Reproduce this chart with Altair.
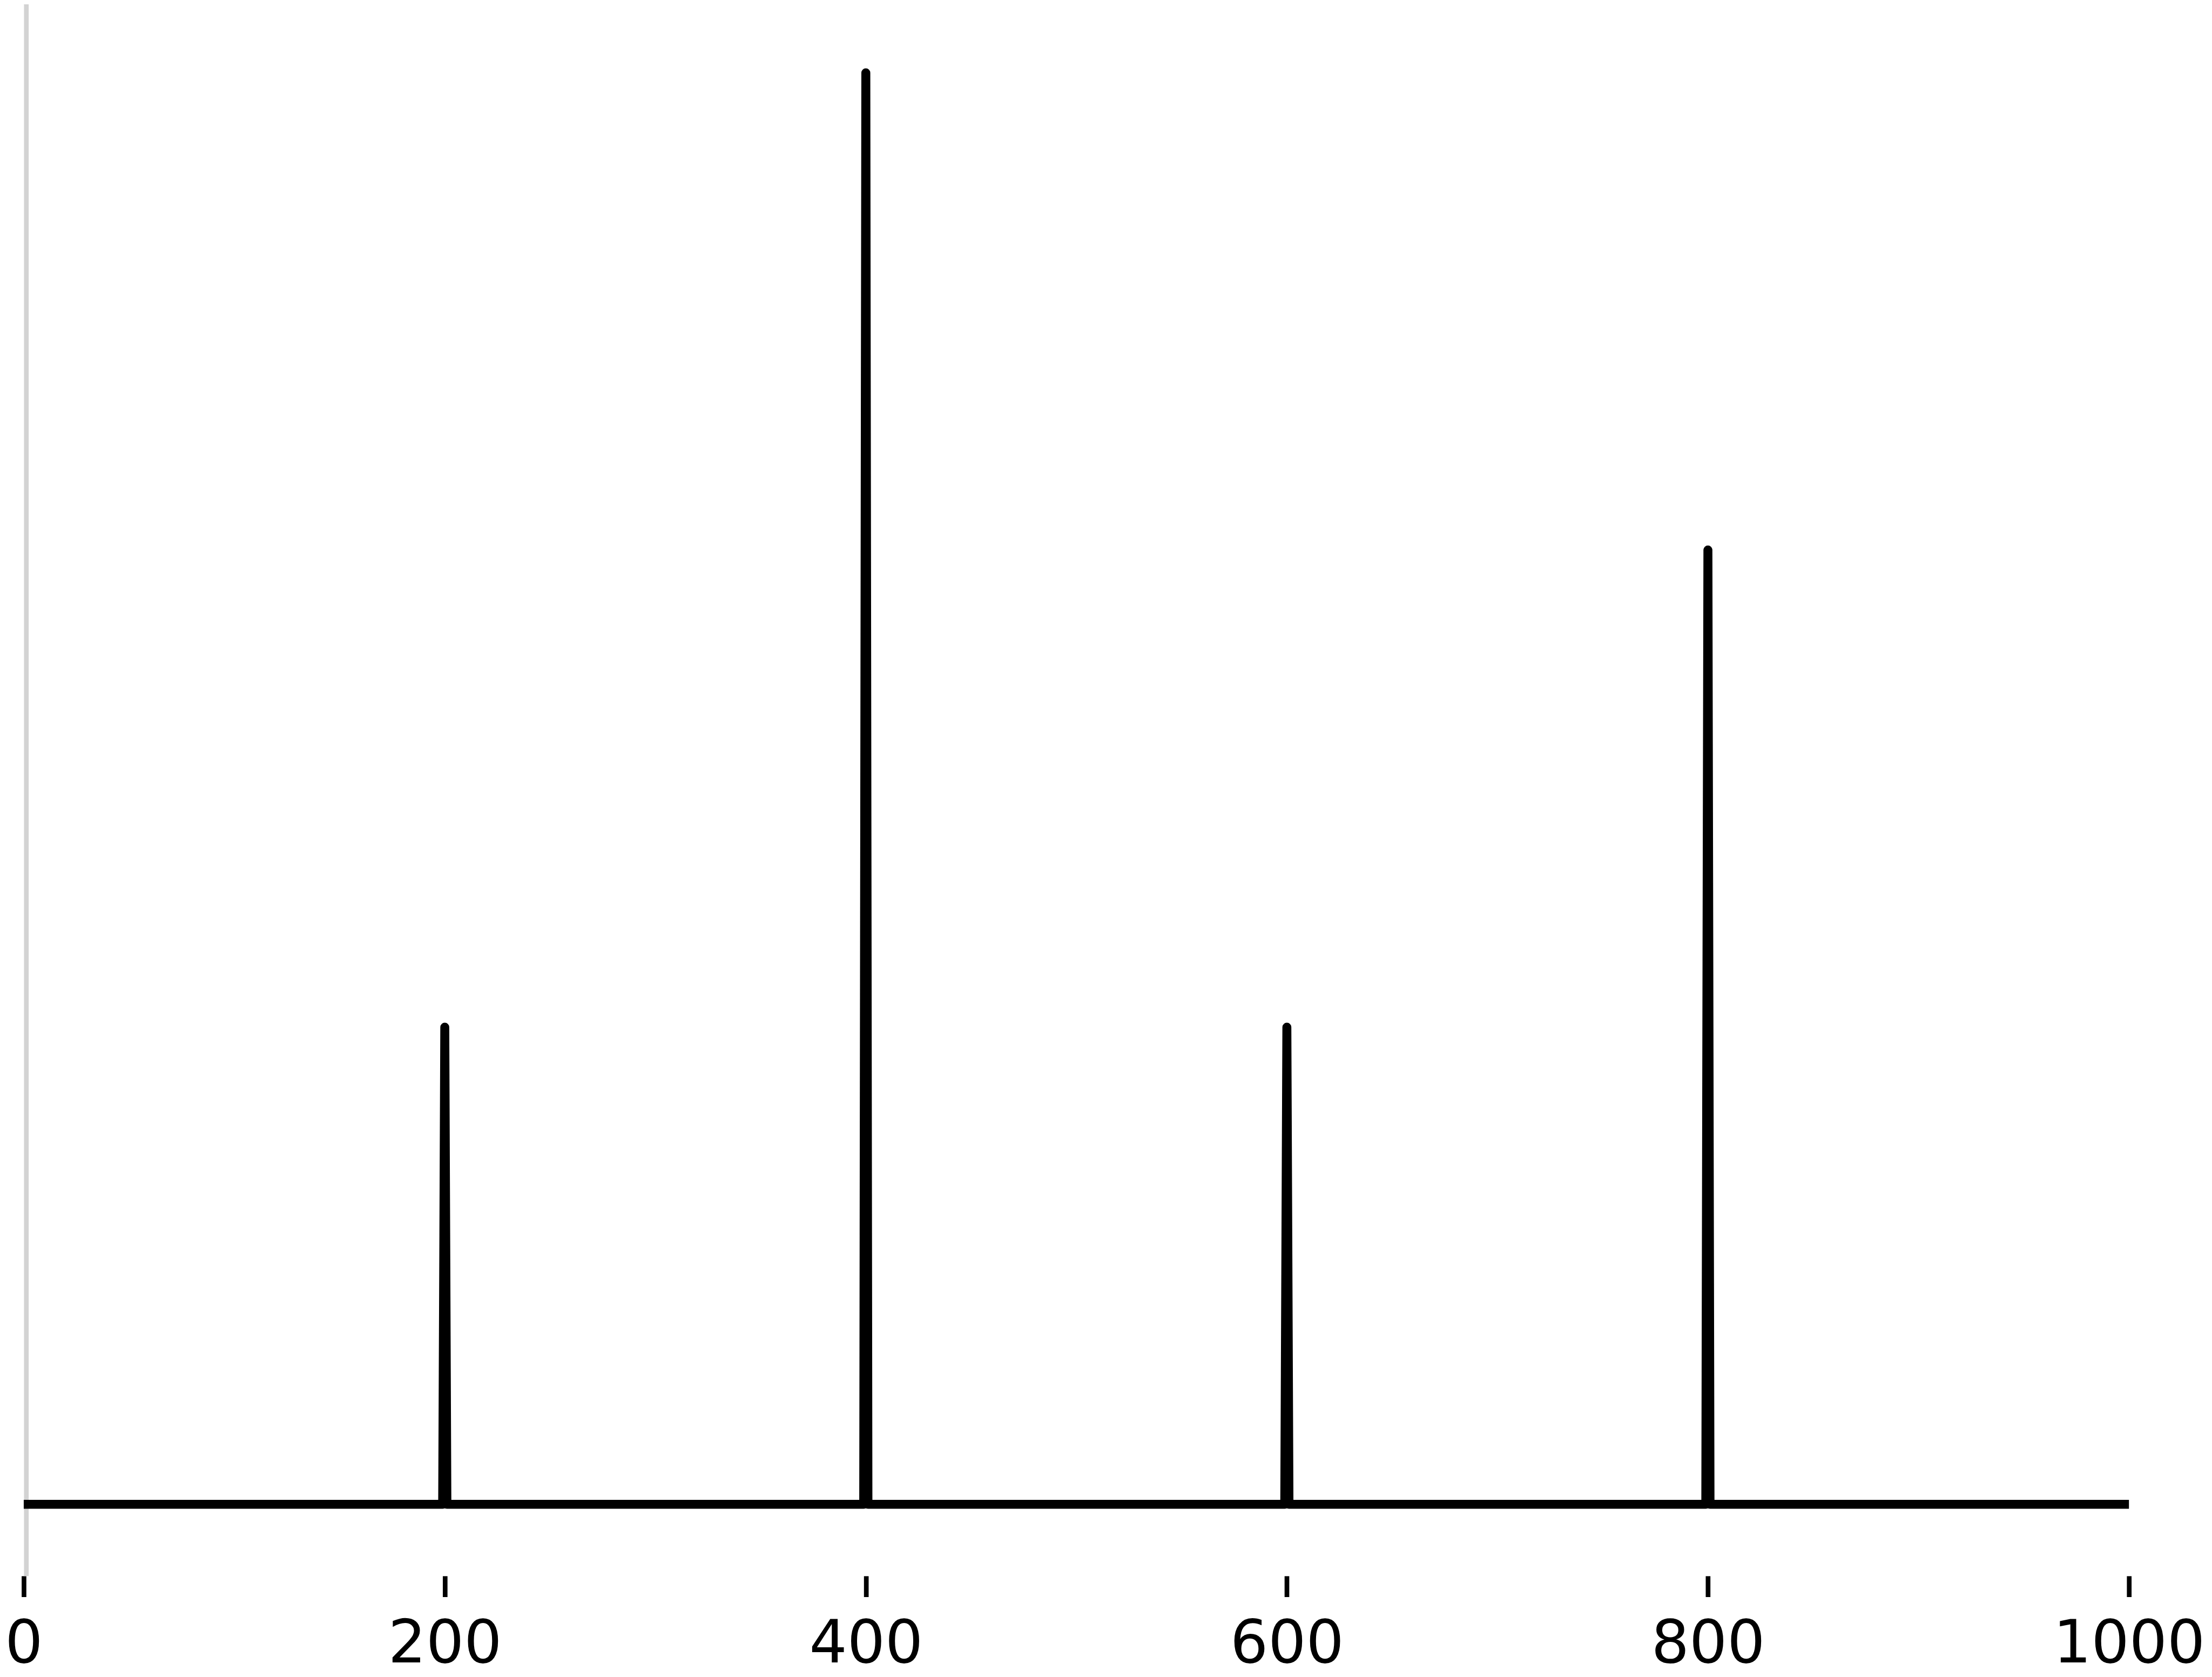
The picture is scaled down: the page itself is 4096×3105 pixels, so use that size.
import altair as alt
import pandas as pd

# Spike series: baseline at 0, narrow spikes (one unit wide on each side)
x_values = [0, 199, 200, 201, 399, 400, 401, 599, 600, 601, 799, 800, 801, 1000]
y_values = [0, 0, 1, 0, 0, 3, 0, 0, 1, 0, 0, 2, 0, 0]
x_ticks = [0, 200, 400, 600, 800, 1000]

df = pd.DataFrame({"x": x_values, "y": y_values})

S = 0.79

chart = alt.Chart(df).mark_line(
    color="black",
    strokeWidth=21 * S,
    strokeJoin="round",
    strokeCap="butt",
    clip=False,
).encode(
    x=alt.X(
        "x:Q",
        scale=alt.Scale(domain=[0, 1000], nice=False, zero=False),
        axis=alt.Axis(
            values=x_ticks,
            title=None,
            grid=False,
            domain=False,
            ticks=True,
            tickColor="black",
            tickWidth=11 * S,
            tickSize=49 * S,
            labelFont="DejaVu Sans",
            labelFontSize=140 * S,
            labelColor="black",
            labelPadding=34,
            labelFlush=False,
            labelOverlap=False,
            labelLimit=1000,
            format="d",
        ),
    ),
    y=alt.Y(
        "y:Q",
        scale=alt.Scale(domain=[-0.15, 3.15], nice=False, zero=False),
        axis=alt.Axis(
            title=None,
            grid=False,
            ticks=False,
            labels=False,
            domain=True,
            domainColor="#d3d3d3",
            domainWidth=11 * S,
            offset=-5.5 * S,
        ),
    ),
).properties(
    width=3904,
    height=3696 * S,
    autosize=alt.AutoSizeParams(type="none"),
    padding={"left": 36, "top": -8, "right": 146, "bottom": 185},
    background="white",
).configure_view(strokeWidth=0, stroke="transparent")

chart.save("out.html", embed_options={"renderer": "svg", "actions": False})
